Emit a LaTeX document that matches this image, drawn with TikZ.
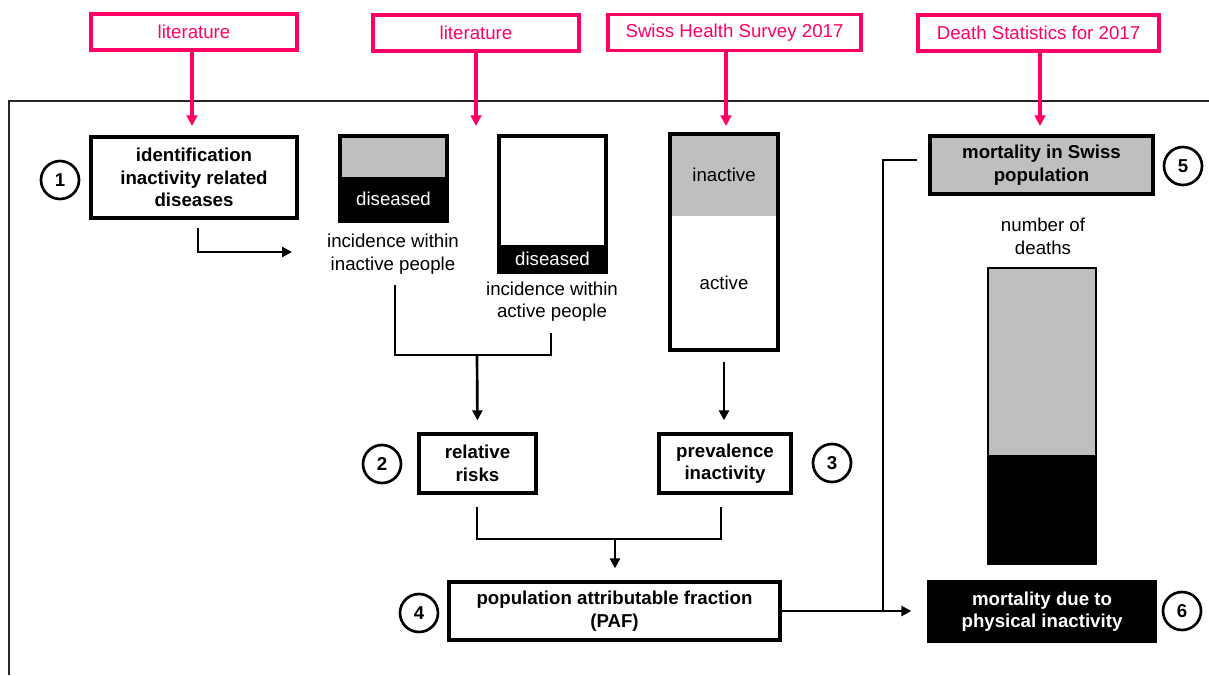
\documentclass[tikz,border=0pt]{standalone}
\usepackage{fontspec}
\setmainfont{Liberation Sans}
\usetikzlibrary{arrows.meta}
\definecolor{srcpink}{RGB}{255,0,102}
\definecolor{lgray}{RGB}{191,191,191}
\begin{document}
\begin{tikzpicture}[x=0.75pt,y=-0.75pt,
  font=\fontsize{14}{17}\selectfont,
  src/.style={draw=srcpink, line width=2.5pt, text=srcpink, minimum height=27pt, inner sep=0pt, fill=white},
  box/.style={draw=black, line width=2.5pt, align=center, inner sep=0pt, font=\fontsize{14}{17}\selectfont\bfseries},
  num/.style={circle, draw, line width=2pt, minimum size=28.5pt, inner sep=0pt, font=\fontsize{14}{17}\selectfont\bfseries},
  seg/.style={inner sep=0pt, outer sep=0pt, minimum width=80.25pt},
  lbl/.style={align=center, inner sep=0pt},
  parr/.style={draw=srcpink, line width=2.4pt, -{Triangle[length=8pt,width=8pt]}},
  arr/.style={line width=2pt, -{Triangle[length=7.5pt,width=7.5pt]}},
  ln/.style={line width=2pt}
]
\useasboundingbox (0,0) rectangle (1209,675);

% frame
\draw[line width=1.2pt, black!85] (9,675) -- (9,101) -- (1209,101);

% sources
\node[src, minimum width=154.5pt] (s1) at (194,32) {literature};
\node[src, minimum width=154.5pt] (s2) at (476,33) {literature};
\node[src, minimum width=189.75pt] (s3) at (734.5,32.5) {Swiss Health Survey 2017};
\node[src, minimum width=180.75pt] (s4) at (1038.5,33) {Death Statistics for 2017};
\coordinate (t1) at (192,126);
\coordinate (t2) at (476,126);
\coordinate (t3) at (726,126);
\coordinate (t4) at (1040,126);
\draw[parr] (s1.south -| t1) -- (t1);
\draw[parr] (s2.south -| t2) -- (t2);
\draw[parr] (s3.south -| t3) -- (t3);
\draw[parr] (s4.south -| t4) -- (t4);

% step 1
\node[box, minimum width=154.5pt, minimum height=60.75pt] (b1) at (194,177.5) {identification\\inactivity related\\diseases};
\node[num] (c1) at (60,180) {1};

% incidence inactive
\node[seg, fill=lgray, minimum height=30.75pt] (g1) at (393.5,156.5) {};
\node[seg, fill=black, text=white, minimum height=33pt] (d1) at (393.5,199) {diseased};
\draw[line width=2.5pt] (g1.north west) rectangle (d1.south east);
\node[lbl] (inc1) at (393,254.5) {incidence within\\inactive people};

% incidence active
\node[seg, fill=white, minimum height=81.75pt] (w2) at (552.5,190.5) {};
\node[seg, fill=black, text=white, minimum height=20.25pt] (d2) at (552.5,258.5) {diseased};
\draw[line width=2.5pt] (w2.north west) rectangle (d2.south east);
\node[lbl] (inc2) at (552,301.5) {incidence within\\active people};

% prevalence column
\node[seg, minimum width=81pt, fill=lgray, minimum height=61.5pt] (pin) at (724,175) {inactive};
\node[seg, minimum width=81pt, fill=white, minimum height=100.5pt] (pac) at (724,283) {active};
\draw[line width=2.5pt] (pin.north west) rectangle (pac.south east);

% step 1 -> incidence
\coordinate (b1s) at (198,228);
\coordinate (i1w) at (292,252);
\draw[arr] (b1s) |- (i1w);

% step 2 and 3
\node[box, minimum width=87.75pt, minimum height=44.25pt] (rr) at (477.5,463.5) {relative\\risks};
\node[num] (c2) at (382,464) {2};
\node[box, minimum width=99pt, minimum height=44.25pt] (pv) at (725,463.5) {prevalence\\inactivity};
\node[num] (c3) at (832,463) {3};

\coordinate (j1a) at (395,285);
\coordinate (j1b) at (551,333);
\coordinate (j1m) at (477,355);
\draw[ln] (j1a) |- (j1b |- j1m) -- (j1b);
\draw[arr, shorten >=9pt] (j1m) -- (rr.north);

\coordinate (pcs) at (724,362);
\draw[arr, shorten >=9pt] (pcs) -- (pcs |- pv.north);

% step 4
\node[box, minimum width=248.25pt, minimum height=43.5pt] (paf) at (614.5,611) {population attributable fraction\\(PAF)};
\node[num] (c4) at (419,613) {4};

\coordinate (j2a) at (477,507);
\coordinate (j2b) at (721,507);
\coordinate (j2m) at (615,539);
\draw[ln] (j2a) |- (j2b |- j2m) -- (j2b);
\draw[arr, shorten >=9pt] (j2m) -- (j2m |- paf.north);

% step 5
\node[box, fill=lgray, minimum width=167.25pt, minimum height=43.5pt] (ms) at (1041.5,165) {mortality in Swiss\\population};
\node[num] (c5) at (1183,166) {5};
\node[lbl] (nd) at (1043,236) {number of\\deaths};
\node[seg, minimum width=81pt, fill=lgray, minimum height=140.25pt] (bg) at (1042,361.5) {};
\node[seg, minimum width=81pt, fill=black, minimum height=81.75pt] (bb) at (1042,509.5) {};
\draw[line width=2.2pt] (bg.north west) rectangle (bb.south east);

% step 6
\node[box, fill=black, text=white, minimum width=169.5pt, minimum height=44.25pt] (md) at (1042,611.5) {mortality due to\\physical inactivity};
\node[num] (c6) at (1182,611) {6};

% PAF -> mortality
\coordinate (jx) at (883,611);
\coordinate (mstop) at (917,160);
\draw[arr, shorten >=12pt] (paf.east) -- (paf.east -| md.west);
\draw[ln] (jx) |- (mstop);
\end{tikzpicture}
\end{document}
